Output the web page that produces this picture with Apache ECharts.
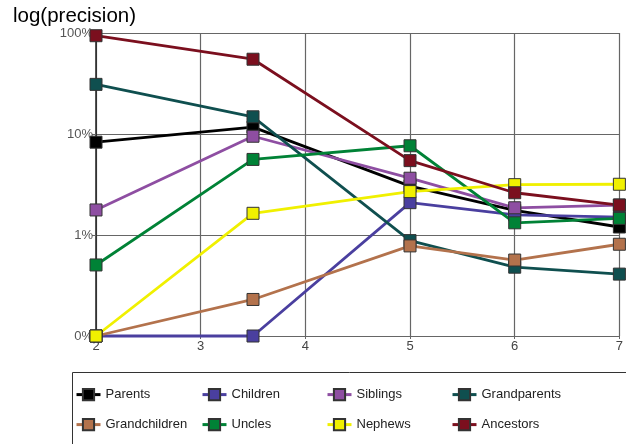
<!DOCTYPE html>
<html>
<head>
<meta charset="utf-8">
<script src="https://cdn.jsdelivr.net/npm/echarts@6/dist/echarts.min.js"></script>
<style>html,body{margin:0;padding:0;background:#fff}#c{width:626px;height:444px}</style>
</head>
<body>
<div id="c"></div>
<script>
var xValues = [2, 3.5, 5, 6, 7];
var seriesNames = ['Parents','Children','Siblings','Grandparents','Grandchildren','Uncles','Nephews','Ancestors'];
var parents       = [8.3, 11.7, 3.05, 1.75, 1.2];
var children      = [0.1, 0.1, 2.09, 1.58, 1.5];
var siblings      = [1.77, 9.5, 3.65, 1.86, 1.98];
var grandparents  = [31, 14.8, 0.88, 0.48, 0.41];
var grandchildren = [0.1, 0.23, 0.78, 0.565, 0.81];
var uncles        = [0.505, 5.6, 7.65, 1.32, 1.46];
var nephews       = [0.1, 1.64, 2.69, 3.15, 3.18];
var ancestors     = [94, 55, 5.45, 2.62, 1.98];
var seriesValues = [parents, children, siblings, grandparents, grandchildren, uncles, nephews, ancestors];
var colors = ['#000000','#4a3f9f','#8e4ea2','#0f4f4f','#b3724c','#008236','#f0f000','#7b0f1e'];

var series = seriesNames.map(function(n, i){
  return {
    name: n, type: 'line',
    data: xValues.map(function(x, j){ return [x, seriesValues[i][j]]; }),
    symbol: 'rect', symbolSize: 12,
    lineStyle: {width: 2.8, color: colors[i]},
    itemStyle: {color: colors[i], borderColor: '#333', borderWidth: 1},
    emphasis: {disabled: true},
    animation: false, clip: false
  };
});

var legendX = [75, 201, 326, 451];
var legends = seriesNames.map(function(n, i){
  return {
    data: [n], left: legendX[i % 4], top: (i < 4 ? 395 : 425) - 7,
    itemWidth: 24, itemHeight: 14, padding: 0,
    lineStyle: {width: 3},
    textStyle: {fontFamily: 'Liberation Sans', fontSize: 13, color: '#222'}
  };
});

var chart = echarts.init(document.getElementById('c'));
chart.setOption({
  animation: false,
  title: {text: 'log(precision)', left: 13, top: 6, padding: 0,
    textStyle: {fontFamily: 'Liberation Sans', fontSize: 20.5, fontWeight: 'normal', color: '#000'}},
  grid: {left: 96, right: 3, top: 33, bottom: 108},
  xAxis: {
    type: 'value', min: 2, max: 7, interval: 1,
    axisLine: {show: true, lineStyle: {color: '#666', width: 1}},
    axisTick: {show: true, length: 3, lineStyle: {color: '#666'}},
    axisLabel: {color: '#444', fontFamily: 'Liberation Sans', fontSize: 13, margin: 4},
    splitLine: {show: true, lineStyle: {color: '#666', width: 1.2}}
  },
  yAxis: {
    type: 'log', logBase: 10, min: 0.1, max: 100,
    axisLine: {show: true, lineStyle: {color: '#222', width: 1.5}},
    axisTick: {show: true, length: 4, lineStyle: {color: '#666'}},
    axisLabel: {color: '#555', fontFamily: 'Liberation Sans', fontSize: 13, margin: 3,
      formatter: function(v){ return (v < 1 ? '0' : Math.round(v)) + '%'; }},
    splitLine: {show: true, lineStyle: {color: '#666', width: 1.2}}
  },
  legend: legends,
  graphic: [{type: 'rect', shape: {x: 72.5, y: 372.5, width: 600, height: 100},
    style: {fill: 'none', stroke: '#333', lineWidth: 1}, z: 100, silent: true}],
  series: series
});
</script>
</body>
</html>
